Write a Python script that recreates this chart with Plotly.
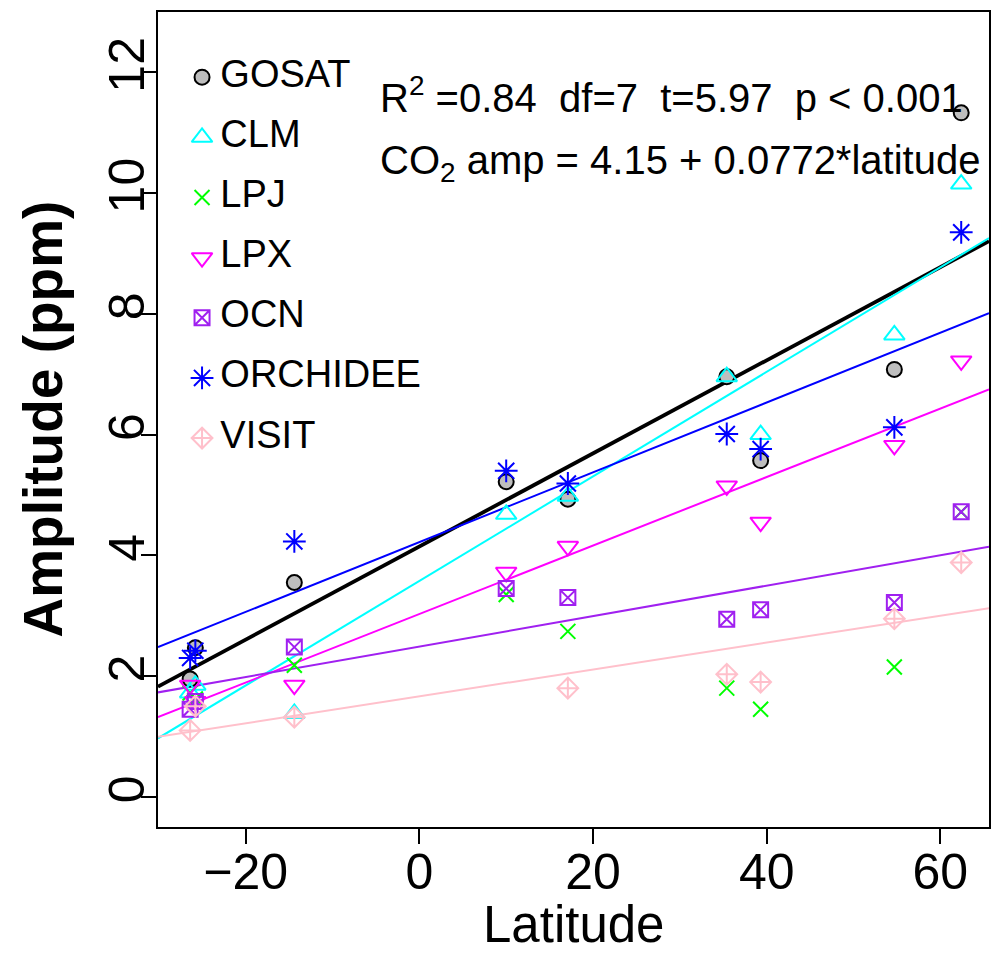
import numpy as np
import plotly.graph_objects as go

# ---- data ----
latitude = [-26.4, -25.8, -14.4, 10.0, 17.1, 35.4, 39.3, 54.7, 62.4]
GOSAT    = [1.95, 2.47, 3.55, 5.22, 4.93, 6.96, 5.57, 7.08, 11.33]
CLM      = [1.72, 1.85, 1.38, 4.68, 4.98, 6.96, 6.00, 7.65, 10.15]
LPJ      = [1.72, 1.62, 2.18, 3.35, 2.74, 1.80, 1.45, 2.15, 4.72]
LPX      = [1.85, 1.58, 1.85, 3.72, 4.15, 5.15, 4.55, 5.82, 7.22]
OCN      = [1.45, 1.58, 2.48, 3.45, 3.30, 2.94, 3.10, 3.22, 4.72]
ORCHIDEE = [2.30, 2.42, 4.23, 5.40, 5.19, 6.01, 5.76, 6.12, 9.35]
VISIT    = [1.10, 1.50, 1.32, None, 1.80, 2.03, 1.90, 2.95, 3.88]

series_names = ["GOSAT", "CLM", "LPJ", "LPX", "OCN", "ORCHIDEE", "VISIT"]
series_vals = [GOSAT, CLM, LPJ, LPX, OCN, ORCHIDEE, VISIT]
with_fit = [True, True, False, True, True, True, True]

x_ticks = [-20, 0, 20, 40, 60]
y_ticks = [0, 2, 4, 6, 8, 10, 12]

stat_line1 = "R<sup>2</sup> =0.84\u00a0\u00a0df=7\u00a0\u00a0t=5.97\u00a0\u00a0p &lt; 0.001"
stat_line2 = "CO<sub>2</sub> amp = 4.15 + 0.0772*latitude"

# ---- styles ----
styles = {
    "GOSAT":    dict(symbol="circle", color="#BEBEBE", line=dict(color="black", width=2), size=15),
    "CLM":      dict(symbol="triangle-up-open", color="#00FFFF", line=dict(color="#00FFFF", width=2), size=18),
    "LPJ":      dict(symbol="x-thin-open", color="#00FF00", line=dict(color="#00FF00", width=2), size=15),
    "LPX":      dict(symbol="triangle-down-open", color="#FF00FF", line=dict(color="#FF00FF", width=2), size=18),
    "OCN":      dict(symbol="square-x-open", color="#A020F0", line=dict(color="#A020F0", width=2), size=15),
    "ORCHIDEE": dict(symbol="asterisk-open", color="#0000FF", line=dict(color="#0000FF", width=2), size=19),
    "VISIT":    dict(symbol="diamond-cross-open", color="#FFC0CB", line=dict(color="#FFC0CB", width=2), size=16),
}
line_colors = {"GOSAT": "black", "CLM": "#00FFFF", "LPX": "#FF00FF", "OCN": "#A020F0",
               "ORCHIDEE": "#0000FF", "VISIT": "#FFC0CB"}
line_widths = {"GOSAT": 3.8}

font_fam = "Liberation Sans, Arial, sans-serif"
xr = [-30.1, 65.6]
yr = [-0.5, 13.0]

fig = go.Figure()

# regression lines (drawn first, under markers)
for name, vals, fit in zip(series_names, series_vals, with_fit):
    if not fit:
        continue
    xs = np.array([x for x, v in zip(latitude, vals) if v is not None], dtype=float)
    ys = np.array([v for v in vals if v is not None], dtype=float)
    b, a = np.polyfit(xs, ys, 1)
    lx = np.array(xr)
    fig.add_trace(go.Scatter(x=lx, y=a + b * lx, mode="lines", showlegend=False,
                             hoverinfo="skip",
                             line=dict(color=line_colors[name], width=line_widths.get(name, 2))))

for name, vals in zip(series_names, series_vals):
    st = styles[name]
    fig.add_trace(go.Scatter(x=latitude, y=vals, mode="markers", name=name, showlegend=False,
                             marker=dict(symbol=st["symbol"], color=st["color"], size=st["size"],
                                         line=st["line"])))

# legend drawn on an overlay axis spanning the plot area (0..1 in both directions)
leg_x0 = 0.053      # symbol centre, fraction of plot width
leg_xt = 0.075      # text anchor
leg_y0 = 0.920      # first row centre, fraction of plot height
leg_dy = 0.0738     # row step
for i, name in enumerate(series_names):
    st = styles[name]
    yy = leg_y0 - i * leg_dy
    fig.add_trace(go.Scatter(x=[leg_x0], y=[yy], xaxis="x2", yaxis="y2", mode="markers",
                             showlegend=False, hoverinfo="skip", cliponaxis=False,
                             marker=dict(symbol=st["symbol"], color=st["color"], size=st["size"],
                                         line=st["line"])))
    fig.add_trace(go.Scatter(x=[leg_xt], y=[yy], xaxis="x2", yaxis="y2", mode="text",
                             text=[name], textposition="middle right",
                             textfont=dict(size=38, family=font_fam, color="black"),
                             showlegend=False, hoverinfo="skip", cliponaxis=False))

axis_common = dict(showgrid=False, zeroline=False, showline=True, mirror=True,
                   linecolor="black", linewidth=2, ticks="outside", ticklen=15,
                   tickwidth=2, tickcolor="black", automargin=False,
                   tickfont=dict(family=font_fam, size=50, color="black"))

fig.update_layout(
    xaxis=dict(range=xr, tickvals=x_ticks, ticklabelstandoff=-15, **axis_common),
    yaxis=dict(range=yr, tickvals=y_ticks, tickangle=-90, ticklabelstandoff=-23, **axis_common),
    xaxis2=dict(range=[0, 1], overlaying="x", visible=False, fixedrange=True),
    yaxis2=dict(range=[0, 1], overlaying="y", visible=False, fixedrange=True),
    width=993, height=956,
    margin=dict(l=158, r=4, t=12, b=129),
    plot_bgcolor="white", paper_bgcolor="white",
    font=dict(family=font_fam, color="black"),
    showlegend=False,
    annotations=[
        dict(text="Latitude", xref="paper", yref="paper", x=0.5, y=0, yanchor="bottom",
             yshift=-128, showarrow=False, font=dict(size=51, family=font_fam)),
        dict(text="<b>Amplitude (ppm)</b>", xref="paper", yref="paper", x=0, y=0.5,
             xanchor="center", yanchor="middle", xshift=-116, textangle=-90, showarrow=False,
             font=dict(size=55, family=font_fam)),
        dict(text=stat_line1, xref="paper", yref="paper", x=0.265, y=0.898,
             xanchor="left", yanchor="middle", showarrow=False, font=dict(size=40, family=font_fam)),
        dict(text=stat_line2, xref="paper", yref="paper", x=0.265, y=0.815,
             xanchor="left", yanchor="middle", showarrow=False, font=dict(size=40, family=font_fam)),
    ],
)

fig.write_html("out.html", config={"displayModeBar": False},
               post_script="document.body.style.margin='0';document.body.style.overflow='hidden';")
